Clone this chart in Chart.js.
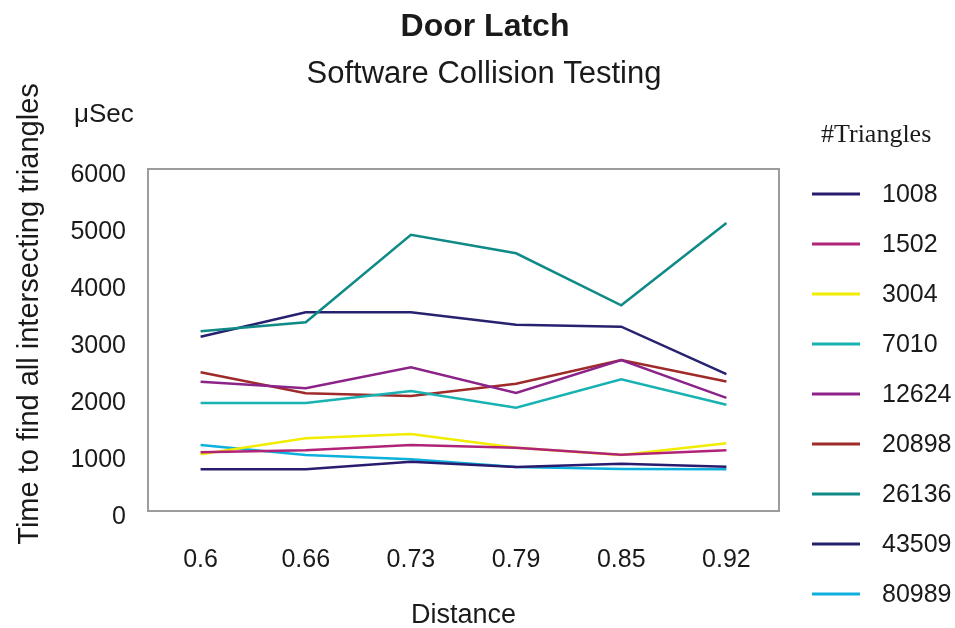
<!DOCTYPE html>
<html><head><meta charset="utf-8">
<script src="https://cdn.jsdelivr.net/npm/chart.js@4/dist/chart.umd.min.js"></script>
<style>html,body{margin:0;padding:0;background:#fff}#wrap{width:955px;height:628px}</style>
</head><body><div id="wrap"><canvas id="c" width="955" height="628"></canvas></div>
<script>
const distances = ['0.6', '0.66', '0.73', '0.79', '0.85', '0.92'];
const yTicks = [0, 1000, 2000, 3000, 4000, 5000, 6000];
const seriesNames = ['1008', '1502', '3004', '7010', '12624', '20898', '26136', '43509', '80989'];
const t1008  = [732, 732, 865, 772, 830, 777];
const t1502  = [1030, 1065, 1158, 1111, 988, 1065];
const t3004  = [995, 1275, 1351, 1111, 982, 1188];
const t7010  = [1895, 1895, 2105, 1812, 2311, 1863];
const t12624 = [2268, 2153, 2521, 2070, 2649, 1985];
const t20898 = [2433, 2065, 2018, 2233, 2649, 2272];
const t26136 = [3153, 3311, 4847, 4521, 3609, 5053];
const t43509 = [3058, 3486, 3486, 3268, 3233, 2400];
const t80989 = [1158, 982, 907, 772, 737, 732];
const seriesValues = [t1008, t1502, t3004, t7010, t12624, t20898, t26136, t43509, t80989];
const seriesColors = ['#2A1B6E', '#B02478', '#F2EC00', '#18B2B2', '#8C2389', '#9E2A2A', '#0F8A87', '#27226F', '#0DB0DD'];

const SANS = '"Liberation Sans", Arial, sans-serif';
const SERIF = '"Liberation Serif", "Times New Roman", serif';
const TXT = '#1a1a1a';

const decor = {
  id: 'decor',
  beforeDatasetsDraw(chart) {
    const {ctx, chartArea: a} = chart;
    ctx.save();
    ctx.strokeStyle = '#9c9c9c';
    ctx.lineWidth = 2;
    ctx.strokeRect(a.left, a.top, a.right - a.left, a.bottom - a.top);
    ctx.restore();
  },
  afterDraw(chart) {
    const {ctx, chartArea: a} = chart;
    ctx.save();
    ctx.fillStyle = TXT;
    ctx.textAlign = 'center';
    ctx.textBaseline = 'alphabetic';
    ctx.font = 'bold 32px ' + SANS;
    ctx.fillText('Door Latch', 485, 36);
    ctx.font = '31px ' + SANS;
    ctx.fillText('Software Collision Testing', 484, 83);
    ctx.textAlign = 'left';
    ctx.font = '26px ' + SANS;
    ctx.fillText('μSec', 74, 122);
    ctx.font = '26px ' + SERIF;
    ctx.fillText('#Triangles', 821, 142);
    ctx.textAlign = 'center';
    ctx.font = '27px ' + SANS;
    ctx.fillText('Distance', (a.left + a.right) / 2, 623);
    ctx.save();
    ctx.translate(38, 314);
    ctx.rotate(-Math.PI / 2);
    ctx.font = '29px ' + SANS;
    ctx.fillText('Time to find all intersecting triangles', 0, 0);
    ctx.restore();
    // legend
    chart.data.datasets.forEach((ds, i) => {
      const y = 194 + 50 * i;
      ctx.strokeStyle = ds.borderColor;
      ctx.lineWidth = 3;
      ctx.beginPath();
      ctx.moveTo(812, y);
      ctx.lineTo(860, y);
      ctx.stroke();
      ctx.fillStyle = TXT;
      ctx.textAlign = 'left';
      ctx.textBaseline = 'middle';
      ctx.font = '25px ' + SANS;
      ctx.fillText(ds.label, 882, y + 1);
    });
    ctx.restore();
  }
};

new Chart(document.getElementById('c'), {
  type: 'line',
  data: {
    labels: distances,
    datasets: seriesNames.map((n, i) => ({
      label: n,
      data: seriesValues[i],
      borderColor: seriesColors[i],
      backgroundColor: seriesColors[i],
      borderWidth: 2.5,
      pointRadius: 0,
      tension: 0,
      fill: false
    }))
  },
  options: {
    responsive: false,
    animation: false,
    devicePixelRatio: 1,
    layout: {padding: {top: 169, right: 176, bottom: 0, left: 0}},
    plugins: {legend: {display: false}, title: {display: false}, tooltip: {enabled: false}},
    scales: {
      x: {
        type: 'category',
        offset: true,
        grid: {display: false, drawTicks: false},
        border: {display: false},
        ticks: {color: TXT, font: {family: SANS, size: 25}, padding: 34, maxRotation: 0},
        afterFit(s) { s.height = 117; }
      },
      y: {
        min: 0, max: 6000,
        grid: {display: false, drawTicks: false},
        border: {display: false},
        afterBuildTicks(s) { s.ticks = yTicks.map(v => ({value: v})); },
        ticks: {color: TXT, font: {family: SANS, size: 25}, padding: 22, labelOffset: 6,
                callback: v => String(v)},
        afterFit(s) { s.width = 148; }
      }
    }
  },
  plugins: [decor]
});
</script>
</body></html>
